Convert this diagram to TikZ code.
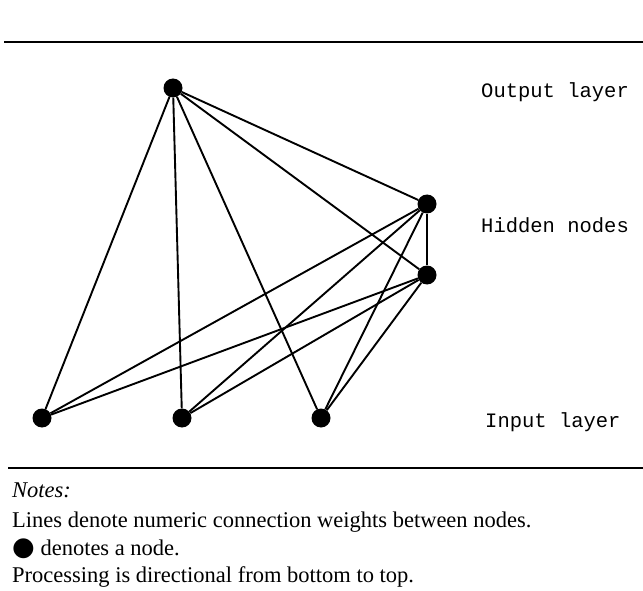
\documentclass[tikz,border=0pt]{standalone}
\usepackage{fontspec}
\setmainfont{Liberation Serif}
\setmonofont{Liberation Mono}
\newfontfamily\dotfont{DejaVu Sans}
\usetikzlibrary{positioning}

\tikzset{
  unit/.style={circle, fill=black, inner sep=0pt, minimum size=19pt},
  link/.style={line width=1.9pt},
  layer/.style={anchor=base west, inner sep=0pt,
    font=\ttfamily\fontsize{20.5}{24}\selectfont},
  note/.style={anchor=base west, inner sep=0pt,
    font=\fontsize{22.5}{27}\selectfont}
}

\begin{document}
\begin{tikzpicture}[x=1pt,y=-1pt]
        \useasboundingbox (0,0) rectangle (643,591);
        \draw[line width=1.4pt] (4,42) -- (643,42);
        \draw[line width=1.4pt] (8,468) -- (643,468);

        % the three layers
        \node[unit] (out) at (173,88) {};
        \node[unit] (hid1) at (427,204) {};
        \node[unit] (hid2) at (427,275) {};
        \node[unit] (in1) at (42,418) {};
        \node[unit] (in2) at (182,418) {};
        \node[unit] (in3) at (321,418) {};

        \foreach \n in {hid1,hid2,in1,in2,in3}
          \draw[link] (out) -- (\n);
        \foreach \h in {hid1,hid2}
          \foreach \i in {in1,in2,in3}
            \draw[link] (\h) -- (\i);
        \draw[link] (hid1) -- (hid2);

        \node[layer] (outlbl) at (481,98) {Output layer};
        \node[layer] (hidlbl) at (481,233) {Hidden nodes};
        \node[layer] (inlbl) at (485,427) {Input layer};

        % notes under the rule
        \node[note] (notes) at (12,497) {\textit{Notes:}};
        \node[note] (lines) at (12,527)
        {Lines denote numeric connection weights between nodes.};
        \node[note] (dot) at (12,555)
        {{\dotfont\fontsize{26}{26}\selectfont ●} denotes a node.};
        \node[note] (dir) at (12,582)
        {Processing is directional from bottom to top.};
      \end{tikzpicture}
\end{document}
